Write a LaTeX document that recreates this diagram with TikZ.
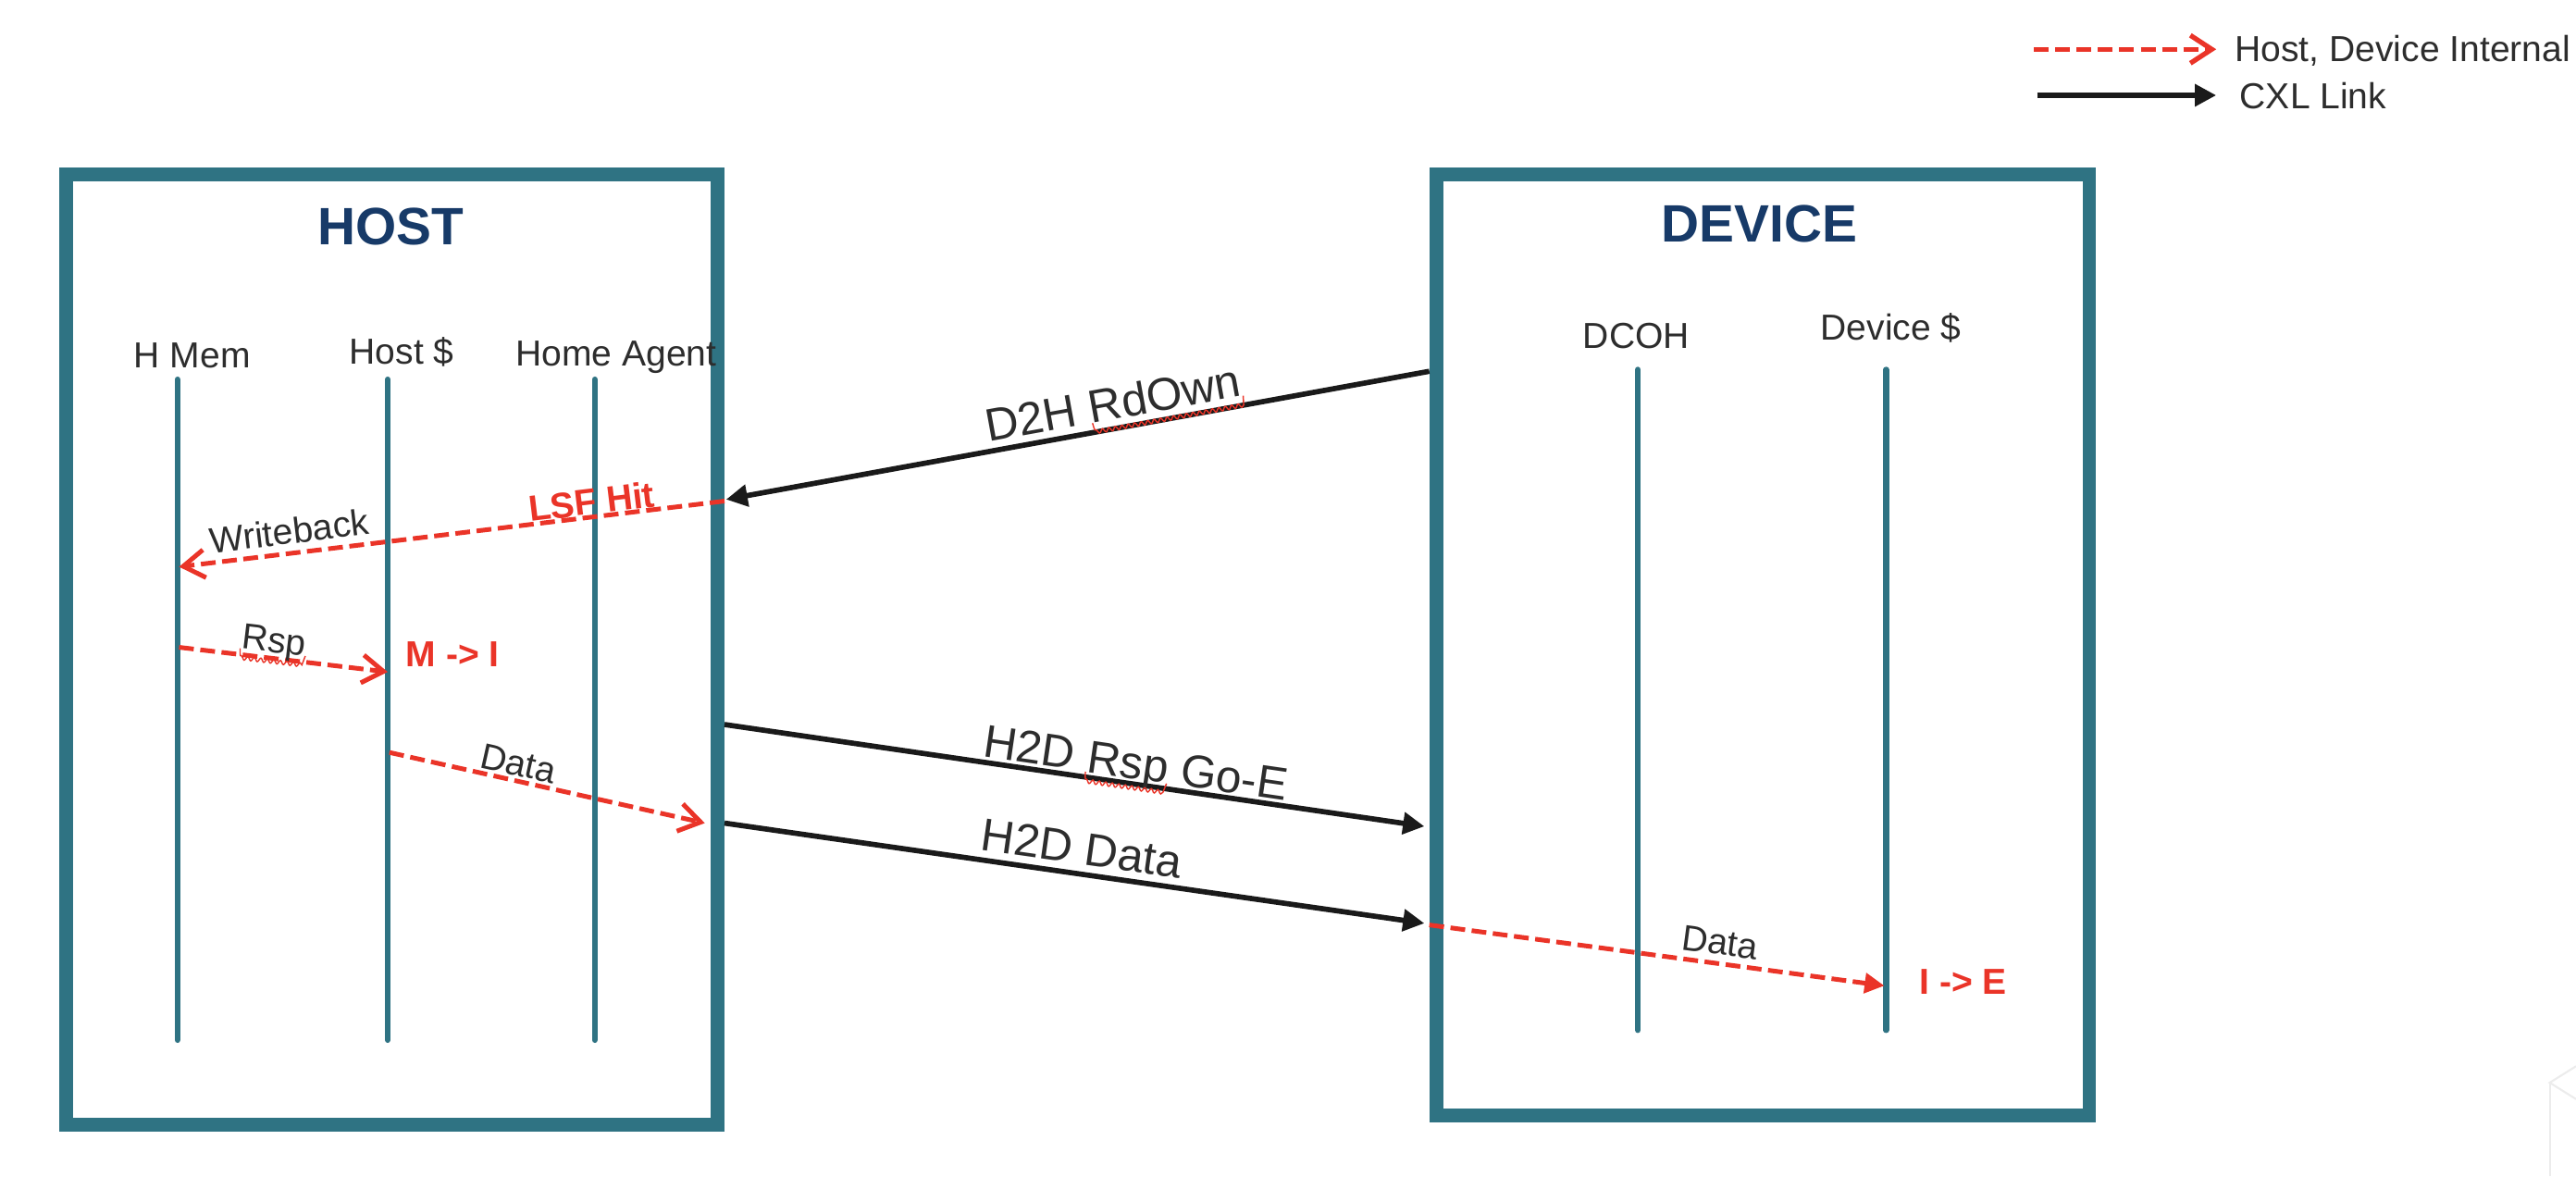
\documentclass[tikz,border=0pt]{standalone}
\usepackage{fontspec}
\setmainfont{Liberation Sans}
\usetikzlibrary{arrows.meta,calc,decorations.pathmorphing}
\definecolor{tealb}{RGB}{47,115,131}
\definecolor{navy}{RGB}{23,58,104}
\definecolor{cxlred}{RGB}{234,52,40}
\definecolor{txt}{RGB}{45,45,45}
\definecolor{cxlblack}{RGB}{26,26,26}
\definecolor{faint}{RGB}{236,236,236}

\begin{document}
\begin{tikzpicture}[x=0.5pt,y=-0.5pt,
  box/.style={draw=tealb,line width=4.2pt,inner sep=0pt,fill=white},
  life/.style={draw=tealb,line width=1.8pt,line cap=round},
  title/.style={text=navy,font=\fontsize{16}{19}\selectfont\bfseries,anchor=base,inner sep=0pt},
  lname/.style={text=txt,font=\fontsize{11}{13}\selectfont,anchor=base,inner sep=0pt},
  cxllbl/.style={text=txt,font=\fontsize{14}{17}\selectfont,anchor=base,inner sep=0pt},
  statelbl/.style={text=cxlred,font=\fontsize{11}{13}\selectfont\bfseries,anchor=base,inner sep=0pt},
  cxl/.style={draw=cxlblack,line width=1.6pt,-{Triangle[length=6.5pt,width=6.5pt]}},
  intarrow/.style={draw=cxlred,line width=1.4pt,dash pattern=on 4.5pt off 2pt,-{Straight Barb[length=6.5pt,width=8.5pt]}},
  intarrowf/.style={draw=cxlred,line width=1.4pt,dash pattern=on 4.5pt off 2pt,-{Triangle[length=6pt,width=6pt]}},
  squig/.style={draw=cxlred,line width=0.4pt,decorate,decoration={snake,amplitude=0.6pt,segment length=2pt,raise=-2.8pt}},
]
\useasboundingbox (0,0) rectangle (1568,716);

% boxes
\node[box,minimum width=198.25pt,minimum height=289.25pt] (hostbox) at (238.5,395.5) {};
\node[box,minimum width=198.75pt,minimum height=286.25pt] (devbox) at (1073,392.5) {};
\node[title] (hosttitle) at (238,149) {HOST};
\node[title] (devtitle) at (1071,147.5) {DEVICE};

% lifeline names
\node[lname] (hmem) at (117,224) {H Mem};
\node[lname] (hcache) at (244.5,221.5) {Host \$};
\node[lname] (hagent) at (375,222.5) {Home Agent};
\node[lname] (dcoh) at (996,212) {DCOH};
\node[lname] (dcache) at (1151,207) {Device \$};

% lifelines
\coordinate (hm-t) at (108,231); \coordinate (hm-b) at (108,633);
\coordinate (hc-t) at (236,231); \coordinate (hc-b) at (236,633);
\coordinate (ha-t) at (362,231); \coordinate (ha-b) at (362,633);
\coordinate (dc-t) at (997,225); \coordinate (dc-b) at (997,627);
\coordinate (dd-t) at (1148,225); \coordinate (dd-b) at (1148,627);
\draw[life] (hm-t) -- (hm-b);
\draw[life] (hc-t) -- (hc-b);
\draw[life] (ha-t) -- (ha-b);
\draw[life] (dc-t) -- (dc-b);
\draw[life] (dd-t) -- (dd-b);

% message end points
\coordinate (rdS) at (870,226); \coordinate (rdE) at (442,304);
\coordinate (wbS) at (441,305); \coordinate (wbE) at (109,345);
\coordinate (rsS) at (109,394); \coordinate (rsE) at (236,409);
\coordinate (hdS) at (237,458); \coordinate (hdE) at (429,501);
\coordinate (goS) at (441,441); \coordinate (goE) at (867,503);
\coordinate (h2dS) at (441,501); \coordinate (h2dE) at (867,562);
\coordinate (ddS) at (870,563); \coordinate (ddE) at (1147,600);

% messages
\draw[cxl] (rdS) -- (rdE);
\draw[intarrow] (wbS) -- (wbE);
\draw[intarrow] (rsS) -- (rsE);
\draw[intarrow] (hdS) -- (hdE);
\draw[cxl] (goS) -- (goE);
\draw[cxl] (h2dS) -- (h2dE);
\draw[intarrowf] (ddS) -- (ddE);

% message labels
\node[cxllbl,rotate=10.3] (l-rd) at (679,255) {D2H RdOwn};
\node[lname,rotate=6.9] (l-wb) at (177,331) {Writeback};
\node[statelbl,rotate=6.9] (l-lsf) at (361,313) {LSF Hit};
\node[lname,rotate=-6.7] (l-rs) at (166,397) {Rsp};
\node[statelbl] (l-mi) at (275.5,406) {M -> I};
\node[lname,rotate=-12.6] (l-hd) at (314,472) {Data};
\node[cxllbl,rotate=-8.3] (l-go) at (690,474) {H2D Rsp Go-E};
\node[cxllbl,rotate=-8.1] (l-h2d) at (657,526) {H2D Data};
\node[lname,rotate=-7.6] (l-dd) at (1046,581) {Data};
\node[statelbl] (l-ie) at (1195,605) {I -> E};

% spell-check squiggles
\draw[squig] ($(l-rd.base west)!0.41!(l-rd.base east)$) -- (l-rd.base east);
\draw[squig] (l-rs.base west) -- (l-rs.base east);
\draw[squig] ($(l-go.base west)!0.342!(l-go.base east)$) -- ($(l-go.base west)!0.608!(l-go.base east)$);

% legend
\coordinate (lg1a) at (1238,30); \coordinate (lg1b) at (1349,30);
\coordinate (lg2a) at (1240,58); \coordinate (lg2b) at (1349,58);
\draw[intarrow,line width=1.5pt] (lg1a) -- (lg1b);
\draw[cxl] (lg2a) -- (lg2b);
\node[lname,anchor=base west] (lgt1) at (1360,37.5) {Host, Device Internal};
\node[lname,anchor=base west] (lgt2) at (1363,66) {CXL Link};

% faint artefact at lower right
\draw[faint,line width=0.6pt] (1568,649) -- (1552,659) -- (1568,669);
\draw[faint,line width=0.6pt] (1552,659) -- (1552,716);
\end{tikzpicture}
\end{document}
